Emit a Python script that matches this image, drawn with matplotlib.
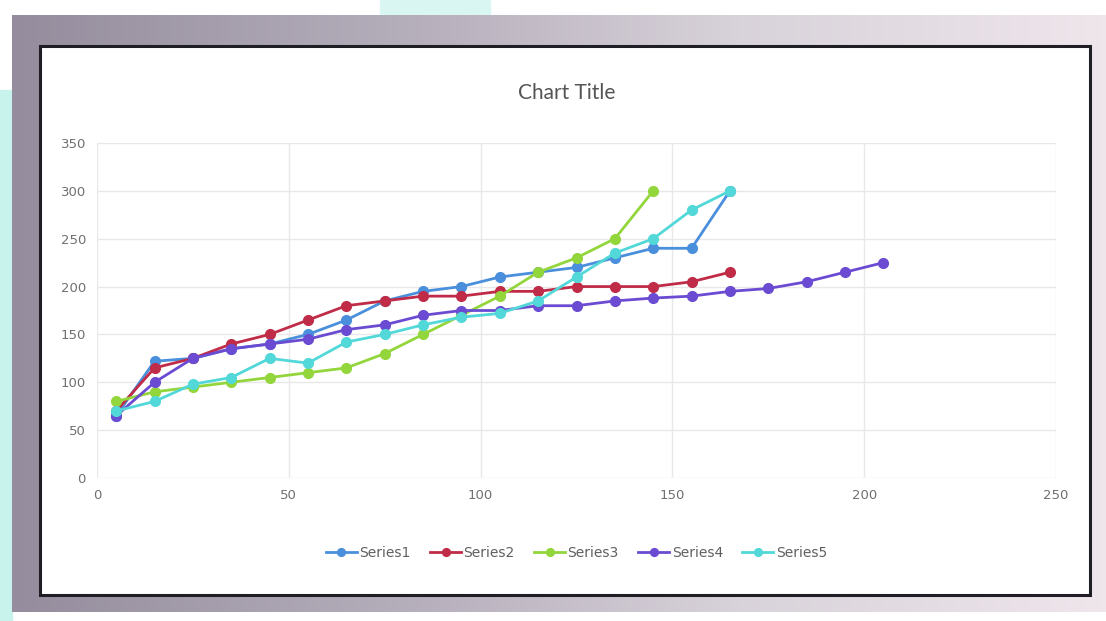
import numpy as np
import matplotlib.pyplot as plt
from matplotlib.patches import Rectangle
from matplotlib.colors import LinearSegmentedColormap

# data
x1 = [5, 15, 25, 35, 45, 55, 65, 75, 85, 95, 105, 115, 125, 135, 145, 155, 165]
s1 = [65, 122, 125, 135, 140, 150, 165, 185, 195, 200, 210, 215, 220, 230, 240, 240, 300]
x2 = [5, 15, 25, 35, 45, 55, 65, 75, 85, 95, 105, 115, 125, 135, 145, 155, 165]
s2 = [70, 115, 125, 140, 150, 165, 180, 185, 190, 190, 195, 195, 200, 200, 200, 205, 215]
x3 = [5, 15, 25, 35, 45, 55, 65, 75, 85, 95, 105, 115, 125, 135, 145]
s3 = [80, 90, 95, 100, 105, 110, 115, 130, 150, 170, 190, 215, 230, 250, 300]
x4 = [5, 15, 25, 35, 45, 55, 65, 75, 85, 95, 105, 115, 125, 135, 145, 155, 165, 175, 185, 195, 205]
s4 = [65, 100, 125, 135, 140, 145, 155, 160, 170, 175, 175, 180, 180, 185, 188, 190, 195, 198, 205, 215, 225]
x5 = [5, 15, 25, 35, 45, 55, 65, 75, 85, 95, 105, 115, 125, 135, 145, 155, 165]
s5 = [70, 80, 98, 105, 125, 120, 142, 150, 160, 168, 172, 185, 210, 235, 250, 280, 300]

names = ["Series1", "Series2", "Series3", "Series4", "Series5"]
colors = ["#4a8fdc", "#c02c48", "#93d63c", "#6a4bd2", "#52d8d8"]

W, H = 1106, 621
fig = plt.figure(figsize=(W / 100, H / 100), dpi=100)

# background with the gradient frame
bg = fig.add_axes([0, 0, 1, 1], zorder=-5)
bg.set_xlim(0, W)
bg.set_ylim(H, 0)
bg.axis("off")
grad = np.linspace(0, 1, 256).reshape(1, -1)
cm = LinearSegmentedColormap.from_list("frame", ["#958d9d", "#b2abb8", "#d8d2da", "#efe6ec"])
bg.imshow(grad, cmap=cm, extent=[12, W, 612, 15], aspect="auto", zorder=1)
bg.add_patch(Rectangle((0, 90), 12, H - 90, color="#c8f2ec", zorder=0))
bg.add_patch(Rectangle((380, 0), 110, 15, color="#d9f6f2", zorder=0))
bg.add_patch(Rectangle((40, 46), 1050, 549, facecolor="white", edgecolor="#1e1e24", lw=2.2, zorder=2))

ax = fig.add_axes([97 / W, 1 - 478 / H, (1056 - 97) / W, (478 - 143) / H])
ax.set_facecolor("none")
xs = [x1, x2, x3, x4, x5]
ys = [s1, s2, s3, s4, s5]
for x, y, n, c in zip(xs, ys, names, colors):
    ax.plot(x, y, color=c, lw=2, marker="o", ms=7, label=n)

ax.set_xlim(0, 250)
ax.set_ylim(0, 350)
ax.set_xticks(range(0, 251, 50))
ax.set_yticks(range(0, 351, 50))
ax.grid(True, color="#e8e8e8", lw=1)
ax.set_axisbelow(True)
for sp in ax.spines.values():
    sp.set_visible(False)
ax.tick_params(length=0, labelsize=9.5, colors="#707070", pad=8)

fig.text(567 / W, 1 - 93 / H, "Chart Title", ha="center", va="center",
         fontsize=15, color="#555555", family="Lato")

ax.legend(loc="center", bbox_to_anchor=(0.5, 1 - (553 - 143) / (478 - 143)),
          ncol=5, frameon=False, fontsize=10, labelcolor="#606060",
          handlelength=2.2, handletextpad=0.2, columnspacing=1.4, markerscale=0.8)

fig.savefig("out.png", dpi=100)
